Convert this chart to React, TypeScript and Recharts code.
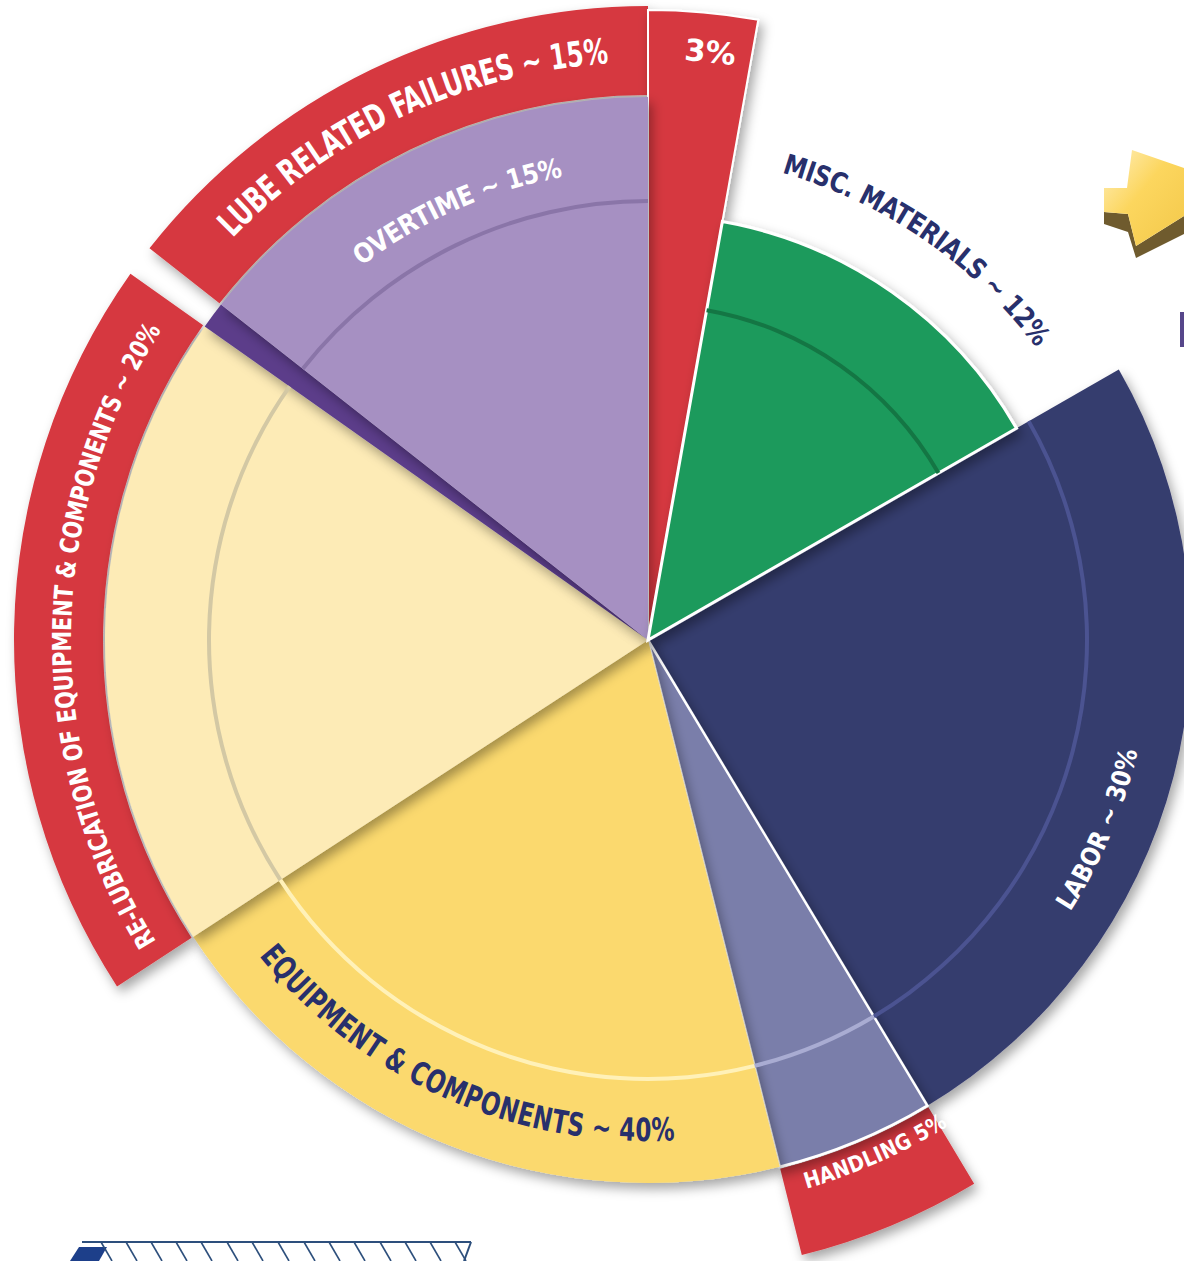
import React from "react";
import { Cell, Pie, PieChart } from "recharts";

// wedges clockwise from 12 o'clock
const categories = [
  "Lube 3%",
  "Misc. Materials",
  "Labor",
  "Handling",
  "Equipment & Components",
  "Re-lubrication",
  "Lube sliver",
  "Overtime",
];
// share of the circle each wedge covers in the drawing (%)
const shares = [2.8, 13.9, 24.7, 4.7, 19.7, 19.0, 0.8, 14.4];
const innerLabels = ["", "MISC. MATERIALS ~ 12%", "LABOR ~ 30%", "", "EQUIPMENT & COMPONENTS ~ 40%", "", "", "OVERTIME ~ 15%"];
const bandLabels = ["3%", "", "", "HANDLING 5%", "", "RE-LUBRICATION OF EQUIPMENT & COMPONENTS ~ 20%", "", "LUBE RELATED  FAILURES ~ 15%"];

const pieData = categories.map((name, i) => ({ name, value: shares[i] }));

const CX = 648;
const CY = 640;
const RED = "#d6383f";
const NAVY = "#28306c";
const FONT = "'Liberation Sans Narrow', 'DejaVu Sans Condensed', 'Roboto', sans-serif";

const bodyFill: Record<string, string> = {
  Labor: "#363c6e",
  Handling: "#7a7eaa",
  "Equipment & Components": "#fbd96e",
  "Re-lubrication": "#fdebb6",
  "Lube sliver": "#5c3d8a",
  Overtime: "#a690c2",
};
const rimFill: Record<string, string> = {
  Labor: "#4b5391",
  Handling: "#a9acd2",
  "Equipment & Components": "#fff1b8",
  "Re-lubrication": "#d3c8a4",
  Overtime: "#8a75a8",
};
const bandOwners = ["Handling", "Re-lubrication", "Overtime"];

type ArcStyle = { r: number; span: number; shift: number; size: number; color: string; inward: boolean };

const innerStyle: Record<string, ArcStyle> = {
  "Misc. Materials": { r: 496, span: 37, shift: -0.6, size: 28, color: NAVY, inward: false },
  Labor: { r: 493, span: 20, shift: 8.2, size: 26, color: "#ffffff", inward: true },
  "Equipment & Components": { r: 490, span: 54, shift: 2.5, size: 32, color: NAVY, inward: true },
  Overtime: { r: 481, span: 27, shift: 2, size: 27, color: "#ffffff", inward: false },
};
const bandStyle: Record<string, ArcStyle> = {
  "Lube 3%": { r: 592, span: 5, shift: 1, size: 30, color: "#ffffff", inward: false },
  Handling: { r: 563, span: 15.6, shift: -1.4, size: 22, color: "#ffffff", inward: true },
  "Re-lubrication": { r: 586, span: 64, shift: -0.6, size: 26, color: "#ffffff", inward: false },
  Overtime: { r: 590, span: 42, shift: 1, size: 35, color: "#ffffff", inward: false },
};

// angle measured clockwise from north
const pt = (cx: number, cy: number, r: number, a: number) => {
  const t = (a * Math.PI) / 180;
  return [cx + r * Math.sin(t), cy - r * Math.cos(t)];
};

const arcText = (texts: string[], styles: Record<string, ArcStyle>, prefix: string) => (props: any) => {
  const i = props.index;
  const text = texts[i];
  const st = styles[categories[i]];
  if (!text || !st) return <g key={`${prefix}-${i}`} />;
  const cx = props.cx ?? CX;
  const cy = props.cy ?? CY;
  const mid = 90 - props.midAngle + st.shift;
  const half = st.span / 2 + 20;
  const a0 = st.inward ? mid + half : mid - half;
  const a1 = st.inward ? mid - half : mid + half;
  const [x0, y0] = pt(cx, cy, st.r, a0);
  const [x1, y1] = pt(cx, cy, st.r, a1);
  const d = `M ${x0} ${y0} A ${st.r} ${st.r} 0 0 ${st.inward ? 0 : 1} ${x1} ${y1}`;
  const len = ((st.span * Math.PI) / 180) * st.r;
  const id = `${prefix}-${i}`;
  return (
    <g key={id}>
      <path id={id} d={d} fill="none" stroke="none" />
      <text fontFamily={FONT} fontWeight="bold" fontSize={st.size} fill={st.color} dominantBaseline="central">
        <textPath href={`#${id}`} startOffset="50%" textAnchor="middle" textLength={len} lengthAdjust="spacingAndGlyphs">
          {text}
        </textPath>
      </text>
    </g>
  );
};

const common = {
  data: pieData,
  dataKey: "value",
  cx: CX,
  cy: CY,
  startAngle: 90,
  endAngle: -270,
  isAnimationActive: false,
  labelLine: false,
};

function Decorations() {
  const hatch = [101, 126, 151, 176, 201, 227, 252, 278, 304, 329, 354, 380, 405, 430, 455];
  return (
    <svg width={1184} height={1261} style={{ position: "absolute", left: 0, top: 0, pointerEvents: "none" }}>
      <defs>
        <linearGradient id="arrowFill" x1="0" y1="0" x2="1" y2="1">
          <stop offset="0%" stopColor="#fff0c0" />
          <stop offset="45%" stopColor="#fcd65e" />
          <stop offset="100%" stopColor="#f3c84a" />
        </linearGradient>
      </defs>
      {/* arrow, top right */}
      <polygon points="1104,212 1128,214 1136,246 1184,216 1184,234 1136,258 1128,232 1104,224" fill="#6f5b2e" />
      <polygon points="1104,188 1127,188 1132,150 1184,168 1184,216 1136,246 1128,214 1104,212" fill="url(#arrowFill)" />
      <rect x={1180} y={312} width={4} height={35} fill="#56468a" />
      {/* logo, bottom left */}
      <polygon points="70,1261 79,1247 107,1247 99,1261" fill="#1d3f8a" />
      <line x1={82} y1={1242} x2={471} y2={1242} stroke="#2d4f7c" strokeWidth={2} />
      <line x1={471} y1={1242} x2={464} y2={1261} stroke="#2d4f7c" strokeWidth={2} />
      {hatch.map((x) => (
        <line key={x} x1={x} y1={1242} x2={x + 11} y2={1261} stroke="#2d4f7c" strokeWidth={1.6} />
      ))}
    </svg>
  );
}

export default function App() {
  return (
    <div style={{ position: "absolute", left: 0, top: 0, width: 1184, height: 1261, background: "#fff", overflow: "hidden" }}>
      <svg width={0} height={0} style={{ position: "absolute" }}>
        <defs>
          <filter id="sh" x="-20%" y="-20%" width="140%" height="140%">
            <feDropShadow dx={4} dy={6} stdDeviation={6} floodColor="#000" floodOpacity={0.35} />
          </filter>
        </defs>
      </svg>
      <PieChart width={1184} height={1261} margin={{ top: 0, right: 0, bottom: 0, left: 0 }}>
        {/* red outer bands */}
        <Pie {...common} innerRadius={545} outerRadius={634} stroke="none">
          {categories.map((c) => (
            <Cell key={c} fill={bandOwners.includes(c) ? RED : "none"} filter={bandOwners.includes(c) ? "url(#sh)" : undefined} />
          ))}
        </Pie>
        {/* 3% red wedge */}
        <Pie {...common} innerRadius={0} outerRadius={630} stroke="none">
          {categories.map((c, i) => (
            <Cell
              key={c}
              fill={i === 0 ? RED : "none"}
              stroke={i === 0 ? "#ffffff" : "none"}
              strokeWidth={2}
              filter={i === 0 ? "url(#sh)" : undefined}
            />
          ))}
        </Pie>
        {/* main wedges */}
        <Pie {...common} innerRadius={0} outerRadius={543} stroke="none">
          {categories.map((c) => (
            <Cell
              key={c}
              fill={bodyFill[c] ?? "none"}
              stroke={c === "Handling" ? "#ffffff" : "none"}
              strokeWidth={2.5}
              filter={bodyFill[c] ? "url(#sh)" : undefined}
            />
          ))}
        </Pie>
        {/* misc materials, shorter */}
        <Pie {...common} innerRadius={0} outerRadius={425} stroke="none">
          {categories.map((c) => (
            <Cell
              key={c}
              fill={c === "Misc. Materials" ? "#1e9a5c" : "none"}
              stroke={c === "Misc. Materials" ? "#ffffff" : "none"}
              strokeWidth={3}
              filter={c === "Misc. Materials" ? "url(#sh)" : undefined}
            />
          ))}
        </Pie>
        {/* inner bevel rings */}
        <Pie {...common} innerRadius={437} outerRadius={441} stroke="none">
          {categories.map((c) => (
            <Cell key={c} fill={rimFill[c] ?? "none"} />
          ))}
        </Pie>
        <Pie {...common} innerRadius={333} outerRadius={337} stroke="none">
          {categories.map((c) => (
            <Cell key={c} fill={c === "Misc. Materials" ? "#147644" : "none"} />
          ))}
        </Pie>
        {/* text layers */}
        <Pie {...common} innerRadius={0} outerRadius={10} stroke="none" label={arcText(innerLabels, innerStyle, "in")}>
          {categories.map((c) => (
            <Cell key={c} fill="none" />
          ))}
        </Pie>
        <Pie {...common} innerRadius={0} outerRadius={10} stroke="none" label={arcText(bandLabels, bandStyle, "band")}>
          {categories.map((c) => (
            <Cell key={c} fill="none" />
          ))}
        </Pie>
      </PieChart>
      <Decorations />
    </div>
  );
}
